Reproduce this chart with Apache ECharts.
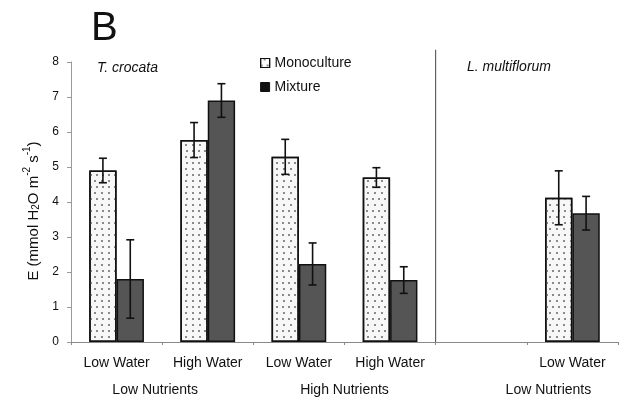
<!DOCTYPE html>
<html><head><meta charset="utf-8">
<script src="https://cdn.jsdelivr.net/npm/echarts@6/dist/echarts.min.js"></script>
<style>html,body{margin:0;padding:0;background:#fff}#c{width:629px;height:405px}</style>
</head><body><div id="c"></div>
<script>
var categories = ['Low Water', 'High Water', 'Low Water', 'High Water', '', 'Low Water'];
var groupLabels = ['Low Nutrients', 'High Nutrients', 'Low Nutrients'];
var monoculture = [4.90, 5.77, 5.29, 4.70, null, 4.12];
var mixture = [1.80, 6.90, 2.23, 1.77, null, 3.68];
var monoErr = [0.35, 0.50, 0.50, 0.28, null, 0.77];
var mixErr = [1.12, 0.48, 0.60, 0.38, null, 0.48];
var yTicks = [0, 1, 2, 3, 4, 5, 6, 7, 8];

var FONT = '"Liberation Sans", Arial, sans-serif';
var chart = echarts.init(document.getElementById('c'), null, {renderer: 'canvas'});

function errData(vals, errs) {
  var out = [];
  for (var i = 0; i < vals.length; i++) {
    if (vals[i] != null) out.push([i, vals[i] - errs[i], vals[i] + errs[i]]);
  }
  return out;
}
function errRender(sign) {
  return function (params, api) {
    var band = api.size([1, 0])[0];
    var off = sign * band * 0.15;
    var lo = api.coord([api.value(0), api.value(1)]);
    var hi = api.coord([api.value(0), api.value(2)]);
    var x = lo[0] + off;
    var cap = 4;
    var st = {stroke: '#111', lineWidth: 1.6};
    return {type: 'group', children: [
      {type: 'line', shape: {x1: x, y1: lo[1], x2: x, y2: hi[1]}, style: st},
      {type: 'line', shape: {x1: x - cap, y1: lo[1], x2: x + cap, y2: lo[1]}, style: st},
      {type: 'line', shape: {x1: x - cap, y1: hi[1], x2: x + cap, y2: hi[1]}, style: st}
    ]};
  };
}

// second-row group labels on a half-category boundary axis (13 boundary points)
var groupAxis = ['', '', groupLabels[0], '', '', '', groupLabels[1], '', '', '', '', groupLabels[2], ''];

var option = {
  animation: false,
  backgroundColor: '#fff',
  title: [
    {text: 'B', left: 86, top: 4, textStyle: {fontFamily: FONT, fontSize: 40, fontWeight: 'normal', color: '#111'}},
    {text: 'T. crocata', left: 92, top: 56, textStyle: {fontFamily: FONT, fontSize: 14, fontStyle: 'italic', fontWeight: 'normal', color: '#111'}},
    {text: 'L. multiflorum', left: 462, top: 55, textStyle: {fontFamily: FONT, fontSize: 14, fontStyle: 'italic', fontWeight: 'normal', color: '#111'}}
  ],
  legend: {
    orient: 'vertical', left: 255, top: 51, itemWidth: 9, itemHeight: 9, itemGap: 10,
    textStyle: {fontFamily: FONT, fontSize: 14, color: '#111'},
    data: [
      {name: 'Monoculture', icon: 'rect', itemStyle: {color: '#fff', borderColor: '#111', borderWidth: 1.2}},
      {name: 'Mixture', icon: 'rect', itemStyle: {color: '#111', borderColor: '#111', borderWidth: 1}}
    ]
  },
  grid: {left: 71, right: 11, top: 62, bottom: 63},
  xAxis: [
    {type: 'category', data: categories, position: 'bottom',
     axisLine: {lineStyle: {color: '#888', width: 1}},
     axisTick: {show: true, length: 3, lineStyle: {color: '#888'}},
     axisLabel: {fontFamily: FONT, fontSize: 14, color: '#111', margin: 14, interval: 0}},
    {type: 'category', data: groupAxis, position: 'bottom', boundaryGap: false,
     axisLine: {show: false}, axisTick: {show: false},
     axisLabel: {fontFamily: FONT, fontSize: 14, color: '#111', margin: 41, interval: 0,
       formatter: function (v, i) { return i === 11 ? '{s|' + v + '}' : (i === 2 ? '{f|' + v + '}' : v); },
       rich: {s: {fontFamily: FONT, fontSize: 14, color: '#111', padding: [0, 48, 0, 0]},
              f: {fontFamily: FONT, fontSize: 14, color: '#111', padding: [0, 14, 0, 0]}}}}
  ],
  yAxis: {
    type: 'value', min: 0, max: 8, interval: 1,
    axisLine: {show: true, lineStyle: {color: '#999', width: 1}},
    axisTick: {show: true, length: 4, lineStyle: {color: '#999'}},
    splitLine: {show: false},
    axisLabel: {fontFamily: FONT, fontSize: 12, color: '#111', margin: 12,
      formatter: function (v) { return yTicks.indexOf(v) >= 0 ? String(v) : ''; }},
    name: '{a|E (mmol H}{s|2}{a|O m}{p|-2}{a| s}{p|-1}{a|)}',
    nameLocation: 'middle', nameGap: 25, nameRotate: 90,
    nameTextStyle: {fontFamily: FONT, fontSize: 15, color: '#111', padding: [0, 18, 0, 0],
      rich: {a: {fontFamily: FONT, fontSize: 15, color: '#111', lineHeight: 19, verticalAlign: 'bottom'},
             s: {fontFamily: FONT, fontSize: 10, color: '#111', verticalAlign: 'bottom', lineHeight: 19},
             p: {fontFamily: FONT, fontSize: 10, color: '#111', verticalAlign: 'top', lineHeight: 10}}}
  },
  series: [
    {name: 'Monoculture', type: 'bar', data: monoculture, barGap: '0%', barCategoryGap: '40%',
     itemStyle: {color: '#f7f7f7', borderColor: '#111', borderWidth: 1.5,
       decal: {symbol: 'rect', symbolSize: 1, color: '#8a8a8a', dashArrayX: [[1.5, 4], [0, 2.75, 1.5, 1.25]], dashArrayY: [1.5, 3.5]}}},
    {name: 'Mixture', type: 'bar', data: mixture, barGap: '0%', barCategoryGap: '40%',
     itemStyle: {color: '#555', borderColor: '#111', borderWidth: 1.5}},
    {name: 'monoErr', type: 'custom', data: errData(monoculture, monoErr), renderItem: errRender(-1), z: 5},
    {name: 'mixErr', type: 'custom', data: errData(mixture, mixErr), renderItem: errRender(1), z: 5},
    {name: 'divider', type: 'custom', data: [[4, 0, 8.35]], z: 5, clip: false,
     renderItem: function (params, api) {
       var band = api.size([1, 0])[0];
       var b = api.coord([api.value(0), api.value(1)]);
       var t = api.coord([api.value(0), api.value(2)]);
       var x = b[0] - band / 2;
       return {type: 'line', shape: {x1: x, y1: b[1], x2: x, y2: t[1]}, style: {stroke: '#444', lineWidth: 1}};
     }}
  ]
};
chart.setOption(option);
</script></body></html>
